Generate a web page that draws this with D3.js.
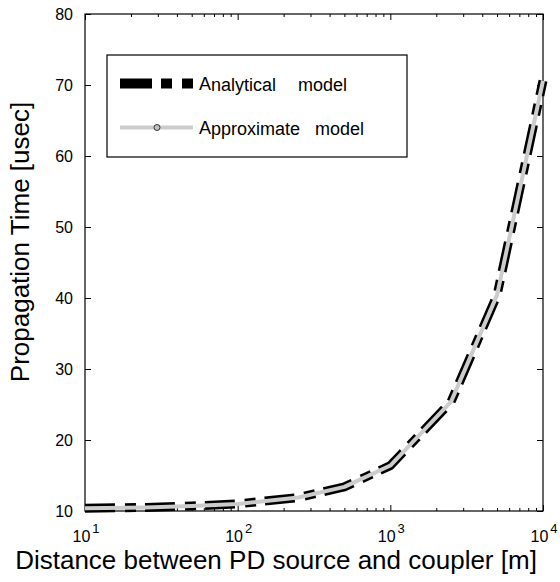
<!DOCTYPE html>
<html><head><meta charset="utf-8">
<script src="https://cdn.jsdelivr.net/npm/d3@7"></script>
<style>body{margin:0;background:#fff}svg{display:block}text{font-family:"Liberation Sans",Arial,sans-serif;fill:#000}</style>
</head><body><svg id="c" width="560" height="582"></svg>
<script>
const distances = [10, 25, 50, 100, 250, 500, 1000, 2500, 5000, 10000];
const analytical = [10.4, 10.5, 10.7, 11.0, 11.9, 13.4, 16.4, 25.4, 40.4, 70.6];
const approximate = [10.4, 10.5, 10.7, 11.0, 11.9, 13.4, 16.4, 25.4, 40.4, 70.6];
const yTicks = [10, 20, 30, 40, 50, 60, 70, 80];
const xTicks = [10, 100, 1000, 10000];
const xTickExp = ["1", "2", "3", "4"];
const seriesNames = ["Analytical", "Approximate"];

const svg = d3.select("#c");
const L = 85, R = 543, T = 14, B = 511;
const x = d3.scaleLog().domain([10, 10000]).range([L, R]);
const y = d3.scaleLinear().domain([10, 80]).range([B, T]);

const minor = [];
for (let d = 10; d < 10000; d *= 10) for (let k = 2; k <= 9; k++) minor.push(d * k);

const g = svg.append("g");
g.append("rect").attr("x", L).attr("y", T).attr("width", R - L).attr("height", B - T)
  .attr("fill", "none").attr("stroke", "#000").attr("stroke-width", 1.2);

const yl = g.append("g").attr("transform", `translate(${L},0)`)
  .call(d3.axisLeft(y).tickValues(yTicks).tickSizeInner(-6).tickSizeOuter(0).tickPadding(12).tickFormat(d3.format("d")));
yl.select(".domain").remove();
yl.selectAll("text").style("font-size", "16px");
const yr = g.append("g").attr("transform", `translate(${R},0)`)
  .call(d3.axisRight(y).tickValues(yTicks).tickSizeInner(-6).tickSizeOuter(0).tickFormat(""));
yr.select(".domain").remove();

const xb = g.append("g").attr("transform", `translate(0,${B})`)
  .call(d3.axisBottom(x).tickValues(xTicks).tickSizeInner(-6).tickSizeOuter(0).tickFormat(""));
xb.select(".domain").remove();
const xbm = g.append("g").attr("transform", `translate(0,${B})`)
  .call(d3.axisBottom(x).tickValues(minor).tickSizeInner(-3).tickSizeOuter(0).tickFormat(""));
xbm.select(".domain").remove();
const xt = g.append("g").attr("transform", `translate(0,${T})`)
  .call(d3.axisTop(x).tickValues(xTicks).tickSizeInner(-6).tickSizeOuter(0).tickFormat(""));
xt.select(".domain").remove();
const xtm = g.append("g").attr("transform", `translate(0,${T})`)
  .call(d3.axisTop(x).tickValues(minor).tickSizeInner(-3).tickSizeOuter(0).tickFormat(""));
xtm.select(".domain").remove();
g.selectAll(".tick line").attr("stroke", "#000");

xTicks.forEach((v, i) => {
  const t = g.append("text").attr("x", x(v) + 1).attr("y", 542).attr("text-anchor", "middle").style("font-size", "16px");
  t.append("tspan").text("10");
  t.append("tspan").attr("dy", -9).attr("dx", 2).style("font-size", "13px").text(xTickExp[i]);
});

svg.append("text").attr("x", 276).attr("y", 569).attr("text-anchor", "middle").style("font-size", "26px")
  .text("Distance between PD source and coupler [m]");
svg.append("text").attr("transform", "translate(29,242) rotate(-90)").attr("text-anchor", "middle").style("font-size", "26px")
  .text("Propagation Time [usec]");

const line = d3.line().x((d, i) => x(distances[i])).y(d => y(d));
svg.append("path").datum(analytical).attr("d", line).attr("fill", "none").attr("stroke", "#000")
  .attr("stroke-width", 9).attr("stroke-dasharray", "30,10,11,9").attr("stroke-linejoin", "round");
svg.append("path").datum(approximate).attr("d", line).attr("fill", "none").attr("stroke", "#cccccc")
  .attr("stroke-width", 4).attr("stroke-linejoin", "round");

const lg = svg.append("g");
lg.append("rect").attr("x", 107).attr("y", 55).attr("width", 300).attr("height", 102)
  .attr("fill", "#fff").attr("stroke", "#000").attr("stroke-width", 1.2);
lg.append("line").attr("x1", 120).attr("x2", 193).attr("y1", 83.5).attr("y2", 83.5)
  .attr("stroke", "#000").attr("stroke-width", 10).attr("stroke-dasharray", "32,9,11,10");
lg.append("line").attr("x1", 120).attr("x2", 193).attr("y1", 127.5).attr("y2", 127.5)
  .attr("stroke", "#cccccc").attr("stroke-width", 4);
lg.append("circle").attr("cx", 157).attr("cy", 127.5).attr("r", 3).attr("fill", "#c0c0c0").attr("stroke", "#333").attr("stroke-width", 1);

function legendText(yb, first, rest, model, modelX) {
  lg.append("text").attr("x", 199).attr("y", yb - 1).style("font-size", "18px").text(first);
  lg.append("text").attr("x", 211).attr("y", yb).style("font-size", "18px").text(rest);
  lg.append("text").attr("x", modelX).attr("y", yb).style("font-size", "18px").text(model);
}
legendText(91, seriesNames[0][0], seriesNames[0].slice(1).toLowerCase(), "model", 298);
legendText(135, seriesNames[1][0], seriesNames[1].slice(1).toLowerCase(), "model", 315);
</script></body></html>
